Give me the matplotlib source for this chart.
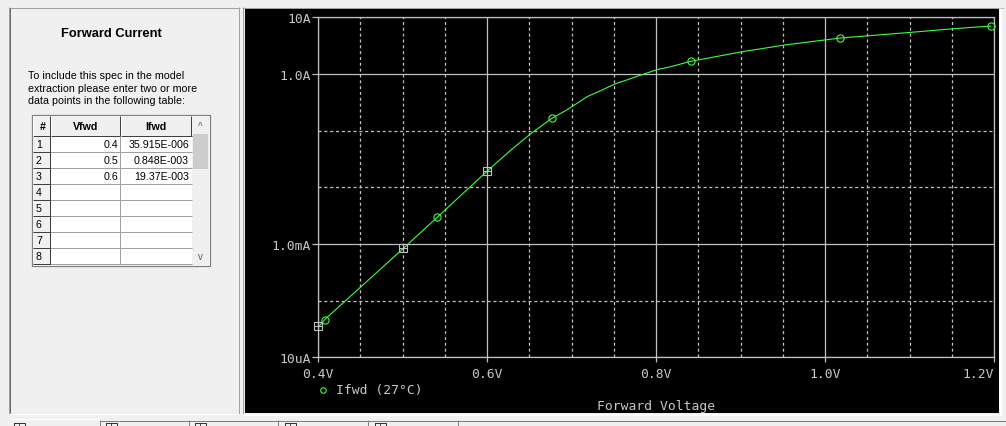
import matplotlib
matplotlib.use("Agg")
import matplotlib.pyplot as plt
from matplotlib.patches import Rectangle

W, H = 1006, 427

# table typed in the left panel
table_v = [0.4, 0.5, 0.6]
table_i_text = ["35.915E-006", "0.848E-003", "19.37E-003"]
table_i = [35.915e-6, 0.848e-3, 19.37e-3]
n_rows = 8

# simulated forward current curve
curve_v = [0.400, 0.408, 0.501, 0.541, 0.600, 0.628, 0.651, 0.677, 0.692, 0.701,
           0.719, 0.734, 0.751, 0.766, 0.782, 0.801, 0.817, 0.841, 0.902, 0.952,
           1.018, 1.052, 1.102, 1.152, 1.196]
curve_i = [3.35e-5, 4.64e-5, 8.35e-4, 2.95e-3, 1.92e-2, 4.51e-2, 8.65e-2, 0.166, 0.221, 0.268,
           0.401, 0.504, 0.662, 0.789, 0.955, 1.19, 1.34, 1.67, 2.47, 3.24,
           4.31, 4.73, 5.43, 6.29, 7.01]
mark_v = [0.408, 0.541, 0.677, 0.841, 1.018, 1.196]
mark_i = [4.64e-5, 2.95e-3, 0.166, 1.67, 4.31, 7.01]

xmajor = [0.4, 0.6, 0.8, 1.0, 1.2]
xmajor_labels = ["0.4V", "0.6V", "0.8V", "1.0V", "1.2V"]
xminor = [0.45, 0.5, 0.55, 0.65, 0.7, 0.75, 0.85, 0.9, 0.95, 1.05, 1.1, 1.15]
ymajor = [1e-5, 1e-3, 1.0, 10.0]
ymajor_labels = ["10uA", "1.0mA", "1.0A", "10A"]
yminor = [1e-4, 1e-2, 1e-1]

plt.rcParams["lines.scale_dashes"] = False
MONO = "DejaVu Sans Mono"
SANS = "Liberation Sans"
GRID = "#c0c0c0"
TXT = "#c8c8c8"
GREEN = "#3cff3c"

fig = plt.figure(figsize=(W / 100, H / 100), dpi=100)
fig.patch.set_facecolor("#f0f0f0")

# background axes in pixel coordinates for the window chrome
bg = fig.add_axes([0, 0, 1, 1], zorder=0)
bg.set_xlim(0, W)
bg.set_ylim(H, 0)
bg.axis("off")


def hline(x0, x1, y, c, lw=0.72):
    bg.plot([x0, x1], [y, y], color=c, lw=lw, solid_capstyle="butt")


def vline(x, y0, y1, c, lw=0.72):
    bg.plot([x, x], [y0, y1], color=c, lw=lw, solid_capstyle="butt")


# left panel (sunken frame)
bg.add_patch(Rectangle((9, 8), 231, 407, facecolor="#f0f0f0", edgecolor="none"))
hline(9, 240, 8.5, "#a0a0a0")
vline(9.5, 8, 415, "#a0a0a0")
vline(10.5, 9, 414, "#696969")
vline(239.5, 8, 415, "#a0a0a0")
hline(9, 240, 414.5, "#ffffff")

bg.text(111, 34, "Forward Current", fontsize=9.3, fontweight="bold", family=SANS,
        ha="center", va="center", color="black")
para = ["To include this spec in the model",
        "extraction please enter two or more",
        "data points in the following table:"]
for k, line in enumerate(para):
    bg.text(28, 76 + 12.5 * k, line, fontsize=7.7, family=SANS, ha="left", va="center", color="black")

# table
tx0, tx1, ty0 = 32, 210, 116
col_edges = [33, 51, 121, 192]
row_h = 16
head_y1 = 137
bg.add_patch(Rectangle((tx0, ty0), tx1 - tx0, head_y1 + n_rows * row_h + 2 - ty0,
                       facecolor="white", edgecolor="#808080", lw=0.9))
# header
for a, b in zip(col_edges[:-1], col_edges[1:]):
    bg.add_patch(Rectangle((a, ty0 + 1), b - a, head_y1 - ty0 - 1, facecolor="#f0f0f0", edgecolor="none"))
    vline(b - 0.5, ty0 + 1, head_y1, "#404040")
    hline(a, b, head_y1 - 0.5, "#404040")
    vline(a + 0.5, ty0 + 1, head_y1, "white")
bg.text(43, 127, "#", fontsize=7.7, fontweight="bold", family=SANS, ha="center", va="center")
bg.text(86, 127, "Vfwd", fontsize=7.7, fontweight="bold", family=SANS, ha="center", va="center")
bg.text(156, 127, "Ifwd", fontsize=7.7, fontweight="bold", family=SANS, ha="center", va="center")

for r in range(n_rows):
    y0 = head_y1 + r * row_h
    bg.add_patch(Rectangle((col_edges[0], y0), col_edges[1] - col_edges[0], row_h,
                           facecolor="#f0f0f0", edgecolor="none"))
    vline(col_edges[1] - 0.5, y0, y0 + row_h, "#404040")
    hline(col_edges[0], col_edges[1], y0 + row_h - 0.5, "#404040")
    hline(col_edges[1], col_edges[3], y0 + row_h - 0.5, "#a0a0a0")
    vline(col_edges[2] - 0.5, y0, y0 + row_h, "#a0a0a0")
    bg.text(36, y0 + row_h / 2, str(r + 1), fontsize=7.7, family=SANS, ha="left", va="center")
    if r < len(table_v):
        bg.text(118, y0 + row_h / 2, f"{table_v[r]}", fontsize=7.7, family=SANS, ha="right", va="center")
        bg.text(189, y0 + row_h / 2, table_i_text[r], fontsize=7.7, family=SANS, ha="right", va="center")

# scrollbar
bg.add_patch(Rectangle((192, ty0 + 1), 17, head_y1 + n_rows * row_h - ty0, facecolor="#f0f0f0", edgecolor="none"))
bg.add_patch(Rectangle((193, 135), 15, 35, facecolor="#cdcdcd", edgecolor="none"))
bg.text(200.5, 127, "^", fontsize=7, family=SANS, ha="center", va="center", color="#606060")
bg.text(200.5, 257, "v", fontsize=7, family=SANS, ha="center", va="center", color="#606060")

# black plot panel
bg.add_patch(Rectangle((245, 10), 754, 404, facecolor="black", edgecolor="none"))
hline(243, 1003, 8.5, "#a0a0a0")
vline(243.5, 8, 416, "#a0a0a0")
vline(1000.5, 9, 416, "#ffffff", lw=2)
hline(243, 1003, 415.5, "#ffffff", lw=1.2)

# bottom tabs
hline(100, W, 421.5, "#808080")
hline(10, 100, 419.5, "#ffffff")
for x in [100, 189, 278, 368, 458]:
    vline(x + 0.5, 421, H, "#808080")
for x in [14, 106, 195, 285, 375]:
    bg.add_patch(Rectangle((x, 424), 11, 5, facecolor="none", edgecolor="#303030", lw=0.7))
    vline(x + 5.5, 424, H, "#303030", lw=0.6)

# plot axes
ax = fig.add_axes([318 / W, 1 - 358.3 / H, (994 - 318) / W, (358.3 - 18.3) / H], zorder=2)
ax.set_facecolor("none")
ax.set_yscale("log")
ax.set_xlim(0.4, 1.2)
ax.set_ylim(1e-5, 10)

ax.set_xticks(xmajor)
ax.set_xticklabels(xmajor_labels)
ax.set_xticks(xminor, minor=True)
ax.set_yticks(ymajor)
ax.set_yticklabels(ymajor_labels)
ax.set_yticks(yminor, minor=True)
ax.set_yticklabels([], minor=True)

ax.grid(which="major", color=GRID, lw=0.9, ls="-")
ax.grid(which="minor", color=GRID, lw=0.9, ls=(0, (2.2, 2.0)))
for s in ax.spines.values():
    s.set_color(GRID)
    s.set_linewidth(0.9)

ax.tick_params(axis="x", which="major", length=3.6, width=0.9, color=GRID, pad=3.5,
               labelsize=9.4, labelcolor=TXT)
ax.tick_params(axis="y", which="major", length=4.3, width=0.9, color=GRID, pad=0.6,
               labelsize=9.4, labelcolor=TXT)
ax.tick_params(which="minor", length=0)
for lab in ax.get_xticklabels() + ax.get_yticklabels():
    lab.set_family(MONO)
ax.get_xticklabels()[-1].set_horizontalalignment("right")

ax.plot(curve_v, curve_i, color=GREEN, lw=0.8, zorder=3)
ax.plot(mark_v, mark_i, "o", mfc="none", mec=GREEN, mew=0.8, ms=5.2, clip_on=False, zorder=4)
ax.plot(table_v, table_i, "s", mfc="none", mec="#c0c0c0", mew=0.8, ms=6.0, clip_on=False, zorder=4)
ax.plot(table_v, table_i, "+", mec="#c0c0c0", mew=0.8, ms=6.0, clip_on=False, zorder=4)

ax.set_xlabel("Forward Voltage", family=MONO, fontsize=9.4, color=TXT, labelpad=13.5)

# legend entry
bg.plot([323], [391], "o", mfc="none", mec=GREEN, mew=0.8, ms=4.0)
bg.text(336, 390.5, "Ifwd (27\u00b0C)", family=MONO, fontsize=9.4, color=TXT, ha="left", va="center")

fig.savefig("out.png", dpi=100, facecolor=fig.get_facecolor())
